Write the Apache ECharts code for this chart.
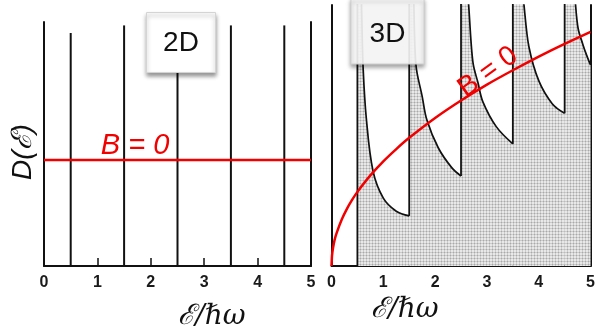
<!DOCTYPE html>
<html><head><meta charset="utf-8">
<script src="https://cdn.jsdelivr.net/npm/echarts@6/dist/echarts.min.js"></script>
<style>html,body{margin:0;padding:0;background:#fff}#c{width:598px;height:336px}</style>
</head><body><div id="c"></div>
<script>
// ---- data ----
const xTickLabels = ['0','1','2','3','4','5'];
const landauLevels = [0.5, 1.5, 2.5, 3.5, 4.5];
const spikeTop2D = [95.5, 98.6, 98.6, 98.6, 98.6];
const flatDOS2D = 43.4;
const sqrtDOS3D = [[0,0],[0.01,4],[0.03,7],[0.06,10],[0.1,12.7],[0.2,17.9],[0.3,22],[0.4,25.4],[0.5,28.4],[0.75,34.7],[1,40.1],[1.25,44.8],[1.5,49.1],[2,56.7],[2.5,63.4],[3,69.5],[3.5,75],[4,80.2],[4.5,85.1],[5,89.7]];
// each Landau-level branch; first point lies just above the frame top (off-scale peak)
const seg1 = [[0.55,108],[0.61,76],[0.67,57],[0.8,36.5],[1.0,26],[1.25,21],[1.5,19.2]];
const seg2 = [[1.56,108],[1.63,77],[1.75,65],[1.84,56],[2.06,45.3],[2.32,37.7],[2.5,34.5]];
const seg3 = [[2.58,108],[2.73,78],[2.83,70],[2.92,63],[3.18,53.4],[3.5,46.8]];
const seg4 = [[3.62,108],[3.81,84],[4.0,71],[4.26,62.2],[4.5,58.5]];
const seg5 = [[4.63,108],[4.76,91],[4.85,85],[4.92,81],[5.0,77]];
const segments3D = [seg1, seg2, seg3, seg4, seg5];
const offScaleTop = 108;

// stipple pattern (fine grid like the scanned halftone)
const pat = document.createElement('canvas'); pat.width = 3; pat.height = 3;
const g = pat.getContext('2d');
g.fillStyle = '#e8e8e8'; g.fillRect(0,0,3,3);
g.fillStyle = '#cbcbcb'; g.fillRect(0,0,3,1); g.fillRect(0,0,1,3);
g.fillStyle = '#a9a9a9'; g.fillRect(0,0,1,1);

const INK = '#111';
const RED = '#f20000';

function xAx(gi) {
  return {gridIndex: gi, type: 'value', min: 0, max: 5, interval: 1,
    axisLine: {onZero: false, lineStyle: {color: INK, width: 2}},
    axisTick: {inside: true, length: 8, lineStyle: {color: INK, width: 1.5}},
    axisLabel: {fontSize: 16, fontWeight: 'bold', color: '#1a1a1a', margin: 9, fontFamily: 'Liberation Sans',
      formatter: v => xTickLabels[Math.round(v)] ?? ''},
    splitLine: {show: false}};
}
function yAx(gi, pos) {
  return {gridIndex: gi, type: 'value', min: 0, max: 100, position: pos,
    axisLine: {show: true, onZero: false, lineStyle: {color: INK, width: 2}},
    axisTick: {show: false}, axisLabel: {show: false}, splitLine: {show: false}};
}

const series = [];
landauLevels.forEach((lv, i) => {
  series.push({type: 'line', xAxisIndex: 0, yAxisIndex: 0, data: [[lv,0],[lv,spikeTop2D[i]]],
    symbol: 'none', lineStyle: {color: INK, width: 2}, silent: true, z: 3});
});
series.push({type: 'line', xAxisIndex: 0, yAxisIndex: 0, data: [[0,flatDOS2D],[5,flatDOS2D]],
  symbol: 'none', lineStyle: {color: RED, width: 2.5}, z: 5});

// 3D: one smooth shaded branch per Landau level + the vertical jump at each level
let prev = 0;
segments3D.forEach((seg, i) => {
  const lv = landauLevels[i];
  series.push({type: 'line', xAxisIndex: 1, yAxisIndex: 2, data: [[lv, offScaleTop]].concat(seg),
    smooth: 0.35, clip: true, symbol: 'none',
    lineStyle: {color: INK, width: 1.7},
    areaStyle: {color: {image: pat, repeat: 'repeat'}, opacity: 1}, z: 3});
  series.push({type: 'line', xAxisIndex: 1, yAxisIndex: 2, data: [[lv, prev],[lv, offScaleTop]],
    clip: true, symbol: 'none', lineStyle: {color: INK, width: 1.8}, z: 4});
  prev = seg[seg.length - 1][1];
});
series.push({type: 'line', xAxisIndex: 1, yAxisIndex: 2, data: sqrtDOS3D, smooth: 0.2,
  symbol: 'none', lineStyle: {color: RED, width: 2.5}, z: 5});

const chart = echarts.init(document.getElementById('c'), null, {renderer: 'canvas'});
chart.setOption({
  animation: false,
  backgroundColor: '#fff',
  grid: [
    {left: 44, right: 287, top: 22, bottom: 70},
    {left: 331.5, right: 4, top: 5, bottom: 70}
  ],
  xAxis: [xAx(0), xAx(1)],
  yAxis: [yAx(0,'left'), yAx(0,'right'), yAx(1,'left'), yAx(1,'right')],
  series: series,
  graphic: [
    {type: 'rect', z: 100, shape: {x: 146.5, y: 12.5, width: 69, height: 60},
      style: {fill: '#fff', stroke: '#d4d4d4', lineWidth: 1, shadowBlur: 4, shadowOffsetY: 3, shadowColor: 'rgba(0,0,0,0.4)'}},
    {type: 'text', z: 101, x: 181, y: 43,
      style: {text: '2D', font: '28px "Liberation Sans"', fill: INK, align: 'center', verticalAlign: 'middle'}},
    {type: 'rect', z: 100, shape: {x: 351, y: -2, width: 73, height: 66},
      style: {fill: 'rgba(255,255,255,0.88)', stroke: '#cfcfcf', lineWidth: 1, shadowBlur: 4, shadowOffsetY: 3, shadowColor: 'rgba(0,0,0,0.4)'}},
    {type: 'text', z: 101, x: 387.5, y: 34,
      style: {text: '3D', font: '28px "Liberation Sans"', fill: INK, align: 'center', verticalAlign: 'middle'}},
    {type: 'text', z: 101, x: 135, y: 146,
      style: {text: 'B = 0', font: 'italic 29px "Liberation Sans"', fill: RED, align: 'center', verticalAlign: 'middle'}},
    {type: 'text', z: 101, x: 488, y: 72, rotation: 36 * Math.PI / 180,
      style: {text: 'B = 0', font: '28px "Liberation Sans"', fill: RED, align: 'center', verticalAlign: 'middle'}},
    {type: 'text', z: 101, x: 23, y: 152, rotation: Math.PI / 2,
      style: {text: 'D(ℰ)', font: 'italic 28px "Liberation Sans"', fill: INK, align: 'center', verticalAlign: 'middle'}},
    {type: 'text', z: 101, x: 212, y: 317,
      style: {text: 'ℰ/ℏω', font: 'italic 28px "DejaVu Serif"', fill: INK, align: 'center', verticalAlign: 'middle'}},
    {type: 'text', z: 101, x: 405, y: 310,
      style: {text: 'ℰ/ℏω', font: 'italic 28px "DejaVu Serif"', fill: INK, align: 'center', verticalAlign: 'middle'}}
  ]
});
</script></body></html>
